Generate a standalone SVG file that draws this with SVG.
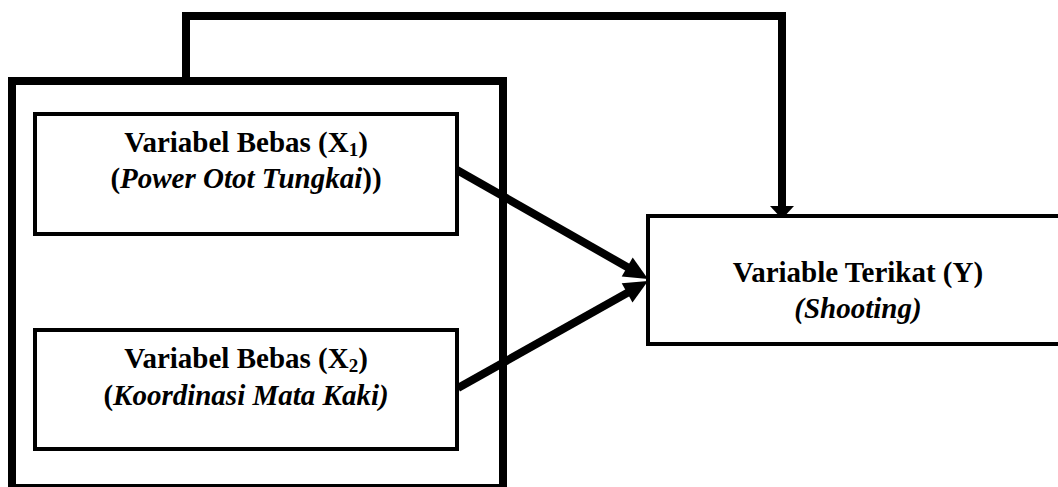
<svg xmlns="http://www.w3.org/2000/svg" width="1058" height="487" viewBox="0 0 1058 487">
<style>
.box{fill:#fff;stroke:#000;stroke-width:4}
.outer{fill:none;stroke:#000;stroke-width:8}
.conn{fill:none;stroke:#000;stroke-width:8;stroke-linejoin:miter}
.head{fill:#000}
text{font-family:'Liberation Serif','Times New Roman',Times,serif;font-weight:bold;font-size:29px;fill:#000;text-anchor:middle}
.i{font-style:italic}
.sub{font-size:19px}
</style>
<rect width="1058" height="487" fill="#fff"/>
<g id="outer-group">
<rect class="outer" x="12" y="81" width="491" height="407"/>
</g>
<g id="connectors">
<path class="conn" d="M186,81 V16 H782 V208"/>
<polygon class="head" points="770,206 794,206 782,219"/>
<line class="conn" x1="457" y1="170" x2="628" y2="267.5"/>
<polygon class="head" points="648,279 621.7,276.6 632.7,257.6"/>
<line class="conn" x1="458" y1="388" x2="628" y2="292.5"/>
<polygon class="head" points="648,281 632.5,302.4 621.7,283.2"/>
</g>
<g id="node-x1">
<rect class="box" x="35" y="114" width="422" height="120"/>
<text x="246" y="152" font-family="Liberation Serif, serif">Variabel Bebas (X<tspan class="sub" dy="4">1</tspan><tspan dy="-4">)</tspan></text>
<text x="246" y="188" font-family="Liberation Serif, serif">(<tspan class="i">Power Otot Tungkai</tspan>))</text>
</g>
<g id="node-x2">
<rect class="box" x="35" y="330" width="422" height="119"/>
<text x="246" y="368" font-family="Liberation Serif, serif">Variabel Bebas (X<tspan class="sub" dy="4">2</tspan><tspan dy="-4">)</tspan></text>
<text x="246" y="405" font-family="Liberation Serif, serif">(<tspan class="i">Koordinasi Mata Kaki)</tspan></text>
</g>
<g id="node-y">
<rect class="box" x="648" y="216" width="420" height="128"/>
<text x="858" y="282" font-family="Liberation Serif, serif">Variable Terikat (Y)</text>
<text class="i" x="858" y="318" font-family="Liberation Serif, serif">(Shooting)</text>
</g>
</svg>
